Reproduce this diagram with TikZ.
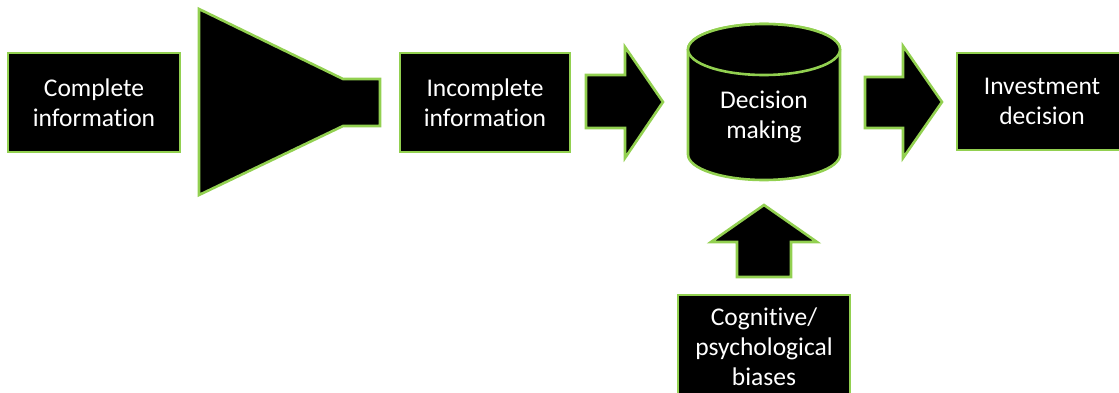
\documentclass[tikz,border=0pt]{standalone}
\usepackage{fontspec}
\setmainfont{Carlito}[Ligatures=NoCommon]
\definecolor{edge}{HTML}{92D050}
\tikzset{
  block/.style={fill=black, draw=edge, line width=2.6pt, line join=miter},
  label/.style={text=white, align=center, font=\fontsize{25.5}{30}\selectfont, inner sep=0pt},
  textbox/.style={block, label, minimum width=#1, minimum height=99pt},
}
\begin{document}
\begin{tikzpicture}[x=1pt, y=1pt]
\useasboundingbox (0,0) rectangle (1119,392);
\clip (0,0) rectangle (1119,392);

% input box
\node[textbox=172pt] (complete) at (94,289.5) {Complete\\information};

% funnel narrowing the information
\draw[block] (199,383) -- (343,313) -- (380,313) -- (380,266) -- (343,266) -- (199,197) -- cycle;
\coordinate (funnel) at (290,290);

% filtered information
\node[textbox=170pt] (incomplete) at (485,289.5) {Incomplete\\information};

% block arrow into the decision
\draw[block] (586,317) -- (625,317) -- (625,345) -- (663,290) -- (625,234) -- (625,264) -- (586,264) -- cycle;

% decision making cylinder
\draw[block] (688,342.5) -- (688,237.5) arc[start angle=180, end angle=360, x radius=76, y radius=25.5]
  -- (840,342.5) arc[start angle=0, end angle=180, x radius=76, y radius=25.5] -- cycle;
\draw[block] (764,342.5) ellipse[x radius=76, y radius=25.5];
\node[label] (decision) at (764,275) {Decision\\making};

% block arrow towards the outcome
\draw[block] (865,315) -- (903,315) -- (903,346) -- (942,290) -- (903,234) -- (903,264) -- (865,264) -- cycle;

% outcome box
\node[textbox=170pt, minimum height=97pt] (investment) at (1042,290.5) {Investment\\decision};

% biases feeding into the decision
\node[textbox=172pt, minimum height=104pt] (biases) at (764,45) {Cognitive/\\psychological\\biases};
\draw[block] (737,115) -- (737,150) -- (711,150) -- (764,187) -- (817,150) -- (791,150) -- (791,115) -- cycle;
\end{tikzpicture}
\end{document}
